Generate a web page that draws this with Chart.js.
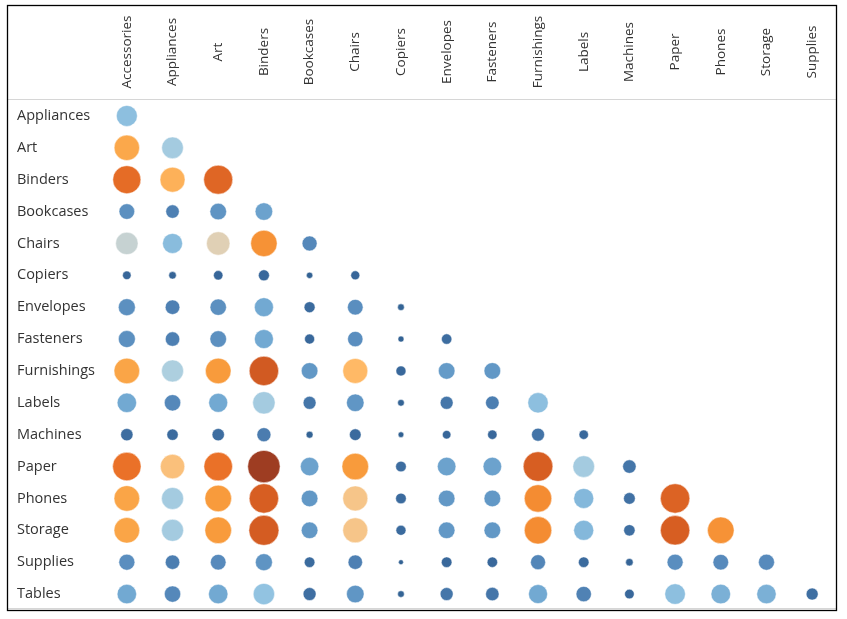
<!DOCTYPE html>
<html>
<head>
<meta charset="utf-8">
<script src="https://cdn.jsdelivr.net/npm/chart.js@4.4.1/dist/chart.umd.min.js"></script>
<style>
  html, body { margin: 0; padding: 0; background: #fff; }
  canvas { display: block; }
</style>
</head>
<body>
<canvas id="chart" width="847" height="619"></canvas>
<script>
// Kolom (atas) dan baris (kiri) sub-kategori
const columnLabels = [
  'Accessories', 'Appliances', 'Art', 'Binders', 'Bookcases', 'Chairs', 'Copiers', 'Envelopes',
  'Fasteners', 'Furnishings', 'Labels', 'Machines', 'Paper', 'Phones', 'Storage', 'Supplies',
];
const rowLabels = [
  'Appliances', 'Art', 'Binders', 'Bookcases', 'Chairs', 'Copiers', 'Envelopes', 'Fasteners',
  'Furnishings', 'Labels', 'Machines', 'Paper', 'Phones', 'Storage', 'Supplies', 'Tables',
];

// Jumlah order bersama (ukuran lingkaran), segitiga bawah
const sharedOrders = [
  [110],
  [161, 117],
  [196, 156, 210],
  [61, 45, 69, 77],
  [125, 100, 137, 174, 56],
  [18, 14, 22, 30, 10, 20],
  [72, 53, 67, 90, 30, 61, 11],
  [72, 52, 69, 90, 25, 59, 9, 27],
  [164, 121, 164, 216, 69, 156, 25, 69, 69],
  [94, 67, 90, 125, 42, 77, 11, 42, 46, 104],
  [38, 32, 38, 49, 12, 34, 8, 18, 22, 42, 22],
  [202, 149, 204, 262, 85, 177, 28, 86, 86, 219, 117, 45],
  [164, 121, 177, 216, 69, 156, 28, 69, 69, 188, 100, 34, 216],
  [164, 121, 177, 225, 69, 156, 25, 69, 69, 188, 100, 32, 216, 177],
  [64, 52, 61, 72, 28, 52, 6, 28, 27, 56, 28, 14, 64, 61, 64],
  [94, 67, 94, 114, 42, 77, 11, 42, 45, 90, 59, 23, 106, 96, 94, 36],
];

// Skor afinitas (warna lingkaran), 0 = biru tua, 100 = oranye tua
const affinityScore = [
  [43],
  [66, 46],
  [82, 64, 84],
  [28, 20, 30, 35],
  [49, 42, 53, 73, 24],
  [8, 7, 8, 9, 5, 8],
  [28, 20, 28, 37, 10, 27, 6],
  [28, 20, 28, 37, 9, 27, 5, 11],
  [67, 47, 70, 89, 32, 62, 9, 33, 32],
  [37, 24, 37, 46, 15, 31, 6, 15, 19, 43],
  [11, 10, 11, 18, 6, 10, 4, 8, 9, 14, 9],
  [80, 59, 80, 100, 35, 70, 11, 35, 35, 87, 46, 15],
  [67, 46, 70, 87, 32, 57, 10, 32, 32, 75, 41, 13, 85],
  [67, 46, 70, 88, 32, 57, 10, 32, 32, 75, 41, 12, 87, 73],
  [27, 19, 25, 30, 10, 20, 5, 9, 9, 23, 10, 7, 27, 25, 25],
  [37, 24, 37, 44, 12, 31, 6, 15, 15, 37, 21, 9, 43, 39, 39, 12],
];

// Palet divergen oranye-biru
const PALET = [
  [0, '#2b5c8a'], [8, '#376699'], [16, '#4778ab'], [24, '#5588ba'], [32, '#6298c6'],
  [37, '#72a9d2'], [44, '#92c3e1'], [47, '#adcfdf'], [50, '#d2d4cc'], [53, '#e0d0b5'],
  [57, '#f6c589'], [62, '#ffb966'], [66, '#fba84b'], [70, '#f89b3c'], [75, '#f48c32'],
  [80, '#ea7128'], [87, '#d75e22'], [90, '#ce5822'], [100, '#9e3d22'],
];

function hexToRgb(hex) {
  const n = parseInt(hex.slice(1), 16);
  return [(n >> 16) & 255, (n >> 8) & 255, n & 255];
}

function warnaSkor(s) {
  for (let i = 1; i < PALET.length; i++) {
    if (s <= PALET[i][0]) {
      const [s0, c0] = PALET[i - 1];
      const [s1, c1] = PALET[i];
      const t = (s - s0) / (s1 - s0);
      const a = hexToRgb(c0), b = hexToRgb(c1);
      const rgb = a.map((v, k) => Math.round(v + (b[k] - v) * t));
      return `rgb(${rgb.join(',')})`;
    }
  }
  return PALET[PALET.length - 1][1];
}

// Titik-titik matriks
const points = [];
rowLabels.forEach((row, i) => {
  sharedOrders[i].forEach((v, j) => {
    points.push({ x: columnLabels[j], y: row, v: v, s: affinityScore[i][j] });
  });
});

const FONT = '"Open Sans", "Noto Sans", sans-serif';

// Bingkai, garis header dan label kolom vertikal
const framePlugin = {
  id: 'frame',
  afterDraw(chart) {
    const ctx = chart.ctx;
    const xs = chart.scales.x;
    ctx.save();
    ctx.strokeStyle = '#d6d6d6';
    ctx.lineWidth = 1;
    ctx.beginPath();
    ctx.moveTo(8, 99.5); ctx.lineTo(836, 99.5);
    ctx.moveTo(8, 608.5); ctx.lineTo(836, 608.5);
    ctx.stroke();

    ctx.strokeStyle = '#000';
    ctx.lineWidth = 1.3;
    ctx.strokeRect(7.5, 5.5, 829, 605);

    ctx.fillStyle = '#333';
    ctx.font = `13.5px ${FONT}`;
    ctx.textAlign = 'center';
    ctx.textBaseline = 'middle';
    columnLabels.forEach((label, i) => {
      ctx.save();
      ctx.translate(xs.getPixelForValue(i), 52);
      ctx.rotate(-Math.PI / 2);
      ctx.fillText(label, 0, 0);
      ctx.restore();
    });
    ctx.restore();
  },
};

const chart = new Chart(document.getElementById('chart').getContext('2d'), {
  type: 'scatter',
  data: {
    datasets: [{
      data: points,
      pointRadius: (c) => Math.sqrt(c.raw.v),
      pointBackgroundColor: (c) => warnaSkor(c.raw.s),
      pointBorderColor: 'rgba(255,255,255,0.6)',
      pointBorderWidth: 0.8,
      pointHoverRadius: (c) => Math.sqrt(c.raw.v),
      clip: false,
    }],
  },
  options: {
    responsive: false,
    animation: false,
    events: [],
    layout: { autoPadding: false, padding: { left: 17, top: 5, right: 12, bottom: 9 } },
    plugins: {
      legend: { display: false },
      tooltip: { enabled: false },
    },
    scales: {
      x: {
        type: 'category',
        labels: columnLabels,
        position: 'top',
        offset: true,
        grid: { display: false },
        border: { display: false },
        ticks: { display: false },
        afterFit: (scale) => { scale.height = 95; },
      },
      y: {
        type: 'category',
        labels: rowLabels,
        position: 'left',
        offset: true,
        grid: { display: false },
        border: { display: false },
        ticks: {
          crossAlign: 'far',
          color: '#333',
          font: { family: FONT, size: 14.5 },
          padding: 0,
        },
        afterFit: (scale) => { scale.width = 87; },
      },
    },
  },
  plugins: [framePlugin],
});
</script>
</body>
</html>
